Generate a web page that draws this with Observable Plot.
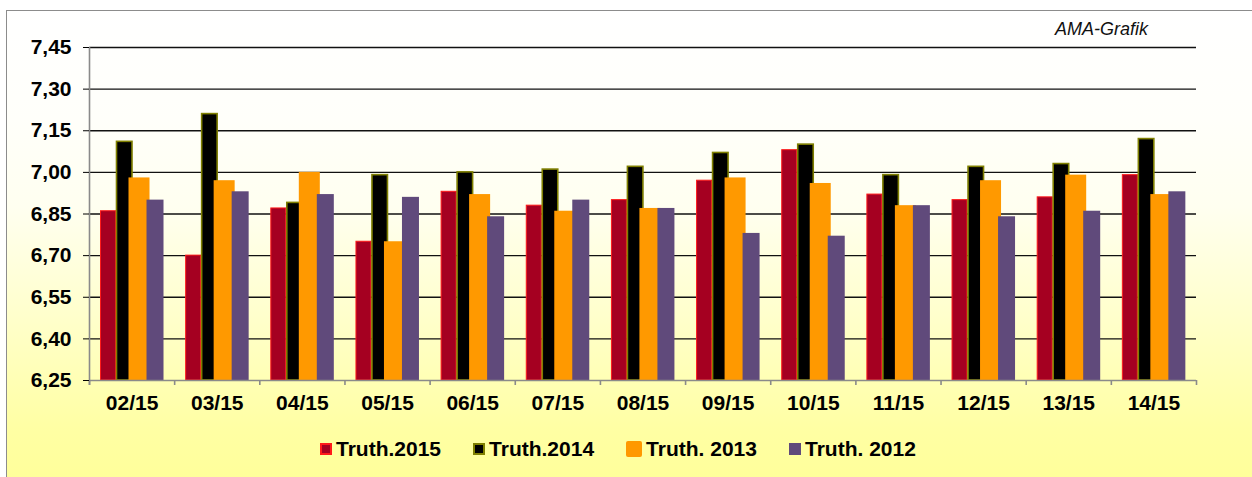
<!DOCTYPE html>
<html>
<head>
<meta charset="utf-8">
<script src="https://cdn.jsdelivr.net/npm/d3@7"></script>
<script src="https://cdn.jsdelivr.net/npm/@observablehq/plot@0.6"></script>
<style>
  html, body { margin: 0; padding: 0; background: #ffffff; }
  body { width: 1252px; height: 477px; overflow: hidden; position: relative;
         font-family: Arial, "Liberation Sans", sans-serif; }
  #panel { position: absolute; left: 6px; top: 10px; width: 1270px; height: 490px;
           border: 1px solid #8c8c8c;
           background: linear-gradient(to bottom, #ffffff 0%, #fffffa 22%, #fffff0 40%, #ffffcc 62%, #ffffa4 85%, #ffff96 100%); }
  #chart { position: absolute; left: 0; top: 0; }
  #note { position: absolute; left: 1055px; top: 19px; font-style: italic; font-size: 18px; color: #111; }
  #legend { position: absolute; left: 320px; top: 437px; display: flex; align-items: center; gap: 32px;
            font-size: 21px; font-weight: bold; color: #000; }
  #legend .item { display: flex; align-items: center; gap: 4px; }
  #legend .sw { box-sizing: border-box; display: inline-block; }
</style>
</head>
<body>
<div id="panel"></div>
<div id="note">AMA-Grafik</div>
<div id="chart"></div>
<div id="legend"></div>
<script>
// ---- data ----
const months = ["02/15","03/15","04/15","05/15","06/15","07/15","08/15","09/15","10/15","11/15","12/15","13/15","14/15"];
const seriesNames = ["Truth.2015", "Truth.2014", "Truth. 2013", "Truth. 2012"];
const truth2015 = [6.86, 6.70, 6.87, 6.75, 6.93, 6.88, 6.90, 6.97, 7.08, 6.92, 6.90, 6.91, 6.99];
const truth2014 = [7.11, 7.21, 6.89, 6.99, 7.00, 7.01, 7.02, 7.07, 7.10, 6.99, 7.02, 7.03, 7.12];
const truth2013 = [6.98, 6.97, 7.00, 6.75, 6.92, 6.86, 6.87, 6.98, 6.96, 6.88, 6.97, 6.99, 6.92];
const truth2012 = [6.90, 6.93, 6.92, 6.91, 6.84, 6.90, 6.87, 6.78, 6.77, 6.88, 6.84, 6.86, 6.93];
const yTicks = [6.25, 6.40, 6.55, 6.70, 6.85, 7.00, 7.15, 7.30, 7.45];

// ---- styling ----
const fills   = ["#a50021", "#000000", "#ff9900", "#604a7b"];
const strokes = ["#ff1a1a", "#7f7f00", "none", "none"];
const strokeWidths = [1, 1.6, 0, 0];

const W = 1252, H = 425, mL = 89, mR = 56, mT = 47, mB = 45;
const step = (W - mL - mR) / months.length;
// horizontal slot of each series inside a month band (px from band start), drawn in order
const slots = [[11.5, 26.5], [27.5, 43], [39.5, 60.5], [57.5, 74.5]];

const allSeries = [truth2015, truth2014, truth2013, truth2012];
const rows = [];
allSeries.forEach((vals, s) => vals.forEach((v, i) => rows.push({month: months[i], series: seriesNames[s], value: v})));

const yMin = yTicks[0], yMax = yTicks[yTicks.length - 1];
const pxPerUnit = (H - mT - mB) / (yMax - yMin);
const tickBelow = yMin - 5 / pxPerUnit;

const barMarks = seriesNames.map((name, s) => Plot.barY(rows.filter(d => d.series === name), {
  x: "month", y1: yMin, y2: "value",
  fill: fills[s], stroke: strokes[s], strokeWidth: strokeWidths[s],
  insetLeft: slots[s][0] * step / 85.15,
  insetRight: step - slots[s][1] * step / 85.15
}));

const chart = Plot.plot({
  width: W, height: H,
  marginLeft: mL, marginRight: mR, marginTop: mT, marginBottom: mB,
  style: {background: "transparent", fontFamily: "Arial, 'Liberation Sans', sans-serif", fontSize: "21px", fontWeight: "bold", color: "#000", overflow: "visible"},
  x: {type: "band", domain: months, padding: 0, round: false},
  y: {domain: [yMin, yMax]},
  marks: [
    Plot.ruleY(yTicks.slice(1), {stroke: "#111", strokeWidth: 1.3}),
    ...barMarks,
    Plot.ruleY([yMin], {stroke: "#8a8a8a", strokeWidth: 1.6}),
    Plot.ruleX([months[0]], {x: d => d, dx: -step / 2, y1: tickBelow, y2: yMax, stroke: "#8a8a8a", strokeWidth: 1.6}),
    Plot.ruleX(months, {x: d => d, dx: -step / 2, y1: tickBelow, y2: yMin, stroke: "#8a8a8a", strokeWidth: 1.6}),
    Plot.ruleX([months[months.length - 1]], {x: d => d, dx: step / 2, y1: tickBelow, y2: yMin, stroke: "#8a8a8a", strokeWidth: 1.6}),
    Plot.axisY({ticks: yTicks, tickFormat: d => d.toFixed(2).replace(".", ","), tickSize: 6, tickPadding: 12, label: null, stroke: "#000"}),
    Plot.axisX({tickSize: 0, tickPadding: 15, label: null})
  ]
});
document.getElementById("chart").appendChild(chart);

// ---- legend ----
const legend = document.getElementById("legend");
const swSizes = [12, 12, 16, 12];
const swBorders = ["2px solid #ff1a1a", "2px solid #7f7f00", "none", "none"];
seriesNames.forEach((name, s) => {
  const item = document.createElement("div");
  item.className = "item";
  const sw = document.createElement("span");
  sw.className = "sw";
  sw.style.width = swSizes[s] + "px";
  sw.style.height = swSizes[s] + "px";
  sw.style.background = fills[s];
  sw.style.border = swBorders[s];
  if (s === 2) sw.style.borderRadius = "2px";
  const label = document.createElement("span");
  label.textContent = name;
  item.appendChild(sw);
  item.appendChild(label);
  legend.appendChild(item);
});
</script>
</body>
</html>
